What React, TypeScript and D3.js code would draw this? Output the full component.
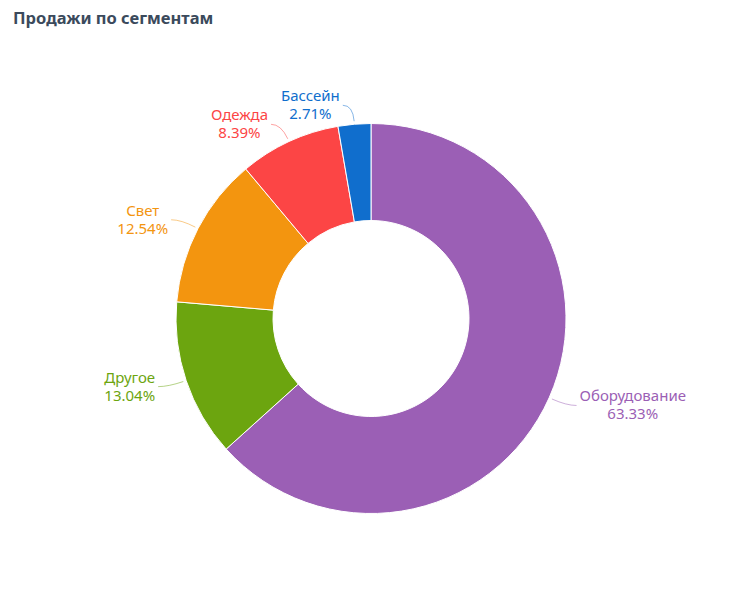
import React from "react";
import * as d3 from "d3";

const categories = ["Оборудование", "Другое", "Свет", "Одежда", "Бассейн"];
const shares = [63.33, 13.04, 12.54, 8.39, 2.71];
const colors = ["#9b5fb5", "#6ca50f", "#f3950f", "#fc4545", "#106ecd"];
const title = "Продажи по сегментам";

const W = 738;
const H = 600;
const cx = 371;
const cy = 318.5;
const outerR = 195;
const innerR = 98;
const labelR = 214;
const labelGap = 13;
const fontSize = 15;
const fontFamily = "'Noto Sans', 'Open Sans', sans-serif";

function measure(s: string): number {
  if (typeof document === "undefined") return s.length * 8;
  const c = document.createElement("canvas");
  const ctx = c.getContext("2d");
  if (!ctx) return s.length * 8;
  ctx.font = `${fontSize}px ${fontFamily}`;
  return ctx.measureText(s).width;
}

export default function App() {
  const data = categories.map((c, i) => ({ name: c, value: shares[i], color: colors[i] }));
  const pie = d3.pie<any>().value((d: any) => d.value).sort(null).startAngle(0).endAngle(2 * Math.PI);
  const arcs = pie(data);
  const arc = d3.arc<any>().innerRadius(innerR).outerRadius(outerR);

  return (
    <svg width={W} height={H} style={{ position: "absolute", left: 0, top: 0, background: "#fff" }}
      fontFamily={fontFamily}>
      <text x={13} y={24} fontSize={16.5} fontWeight="bold" fill="#3b4a5c">{title}</text>
      <g transform={`translate(${cx},${cy})`}>
        {arcs.map((a, i) => (
          <path key={i} d={arc(a) as string} fill={a.data.color} stroke="#fff" strokeWidth={1} />
        ))}
        {arcs.map((a, i) => {
          const mid = (a.startAngle + a.endAngle) / 2;
          const sx = Math.sin(mid);
          const sy = -Math.cos(mid);
          const right = sx >= 0;
          const ly = labelR * sy;
          const edge = labelR * sx + (right ? labelGap : -labelGap);
          const l1 = a.data.name;
          const l2 = a.data.value.toFixed(2) + "%";
          const w = Math.max(measure(l1), measure(l2));
          const tcx = right ? edge + w / 2 : edge - w / 2;
          const startX = right ? edge - 3 : edge + 3;
          const crookX = right ? startX - 10 : startX + 10;
          const ex = (outerR + 3) * sx;
          const ey = (outerR + 3) * sy;
          const path = `M${startX},${ly} Q${crookX},${ly} ${ex},${ey}`;
          return (
            <g key={"l" + i}>
              <path d={path} fill="none" stroke={a.data.color} strokeOpacity={0.5} strokeWidth={1} />
              <text textAnchor="middle" fontSize={fontSize} fill={a.data.color}>
                <tspan x={tcx} y={ly - 4}>{l1}</tspan>
                <tspan x={tcx} y={ly + 14}>{l2}</tspan>
              </text>
            </g>
          );
        })}
      </g>
    </svg>
  );
}
